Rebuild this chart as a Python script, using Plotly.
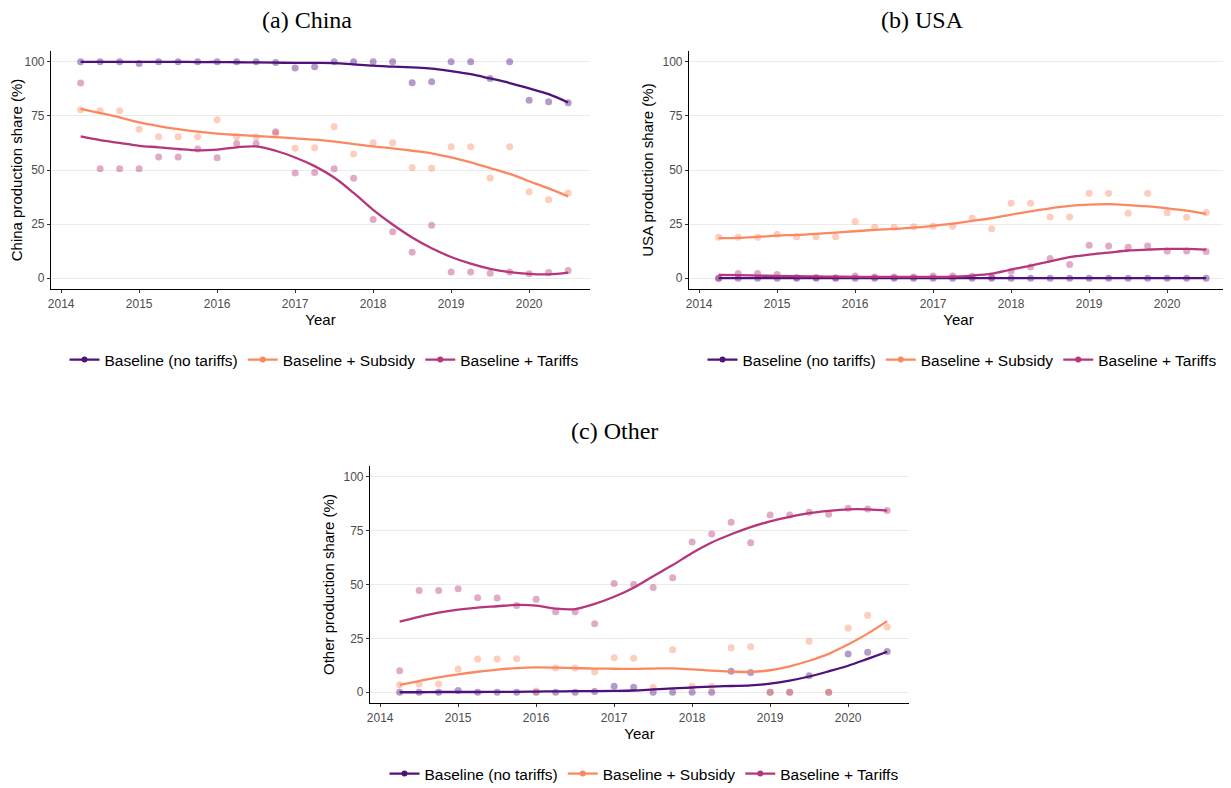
import plotly.graph_objects as go

# page body has an 8px margin: positions are shifted by it; the figure keeps full size
OFF = 8
W, H = 1231, 788

years = [2014.25, 2014.5, 2014.75, 2015.0, 2015.25, 2015.5, 2015.75, 2016.0,
         2016.25, 2016.5, 2016.75, 2017.0, 2017.25, 2017.5, 2017.75, 2018.0,
         2018.25, 2018.5, 2018.75, 2019.0, 2019.25, 2019.5, 2019.75, 2020.0,
         2020.25, 2020.5]

scenarios = ["Baseline (no tariffs)", "Baseline + Subsidy", "Baseline + Tariffs"]
colors = ["#4F127B", "#FB8861", "#B5367A"]

# ---- China: observed points ----
china_base = [100, 100, 100, 99.2, 100, 100, 100, 100, 100, 100, 99.7, 97.1, 97.7,
              100, 100, 100, 100, 90.3, 90.8, 100, 100, 92.3, 100, 82.2, 81.5, 81.1]
china_subs = [77.8, 77.4, 77.4, 68.8, 65.4, 65.4, 65.4, 73.2, 65.4, 65.4, 66.9, 60.0,
              60.3, 70.0, 57.4, 62.6, 62.6, 51.2, 50.8, 60.8, 60.8, 46.3, 60.8, 40.0,
              36.2, 39.4]
china_tar = [90.2, 50.6, 50.6, 50.6, 56.0, 56.0, 59.7, 55.7, 62.3, 62.3, 67.7, 48.6,
             48.9, 50.6, 46.2, 27.1, 21.5, 12.0, 24.5, 2.8, 2.8, 2.3, 2.8, 2.0, 2.6, 3.5]
# ---- China: smoothed curves ----
china_base_fit = [100, 100, 100, 100, 100, 100, 99.9, 99.9, 99.8, 99.7, 99.6, 99.5,
                  99.5, 99.4, 98.8, 98.2, 97.8, 97.4, 96.9, 95.7, 94.3, 92.3, 90.2,
                  87.7, 85.1, 81.2]
china_subs_fit = [78.2, 76.3, 74.3, 72.0, 70.3, 68.9, 67.7, 66.8, 66.2, 65.7, 65.2,
                  64.6, 64.0, 63.1, 62.0, 60.9, 60.0, 58.9, 57.7, 55.8, 53.5, 50.9,
                  48.2, 44.8, 41.5, 37.8]
china_tar_fit = [65.5, 63.8, 62.5, 61.2, 60.5, 59.7, 59.1, 59.4, 60.5, 60.9, 58.9,
                 55.8, 51.8, 46.5, 39.4, 31.6, 24.8, 18.8, 13.8, 9.8, 6.7, 4.3, 2.8,
                 2.0, 1.8, 2.6]

# ---- USA ----
usa_base = [0] * 26
usa_subs = [18.9, 18.9, 18.9, 20.3, 19.2, 19.2, 19.2, 26.2, 23.5, 23.5, 23.8, 24.0,
            24.0, 27.7, 22.8, 34.6, 34.6, 28.3, 28.3, 39.2, 39.2, 30.0, 39.2, 30.2,
            28.2, 30.3]
usa_tar = [0.0, 2.2, 2.2, 1.7, 0.3, 0.3, 0.2, 1.0, 0.5, 0.5, 0.5, 1.0, 1.0, 0.9, 0.5,
           3.2, 5.2, 9.1, 6.3, 15.2, 14.9, 14.3, 14.9, 12.6, 12.6, 12.3]
usa_base_fit = [0] * 26
usa_subs_fit = [18.5, 18.6, 19.1, 19.7, 20.0, 20.5, 21.1, 21.7, 22.3, 22.8, 23.4,
                24.2, 25.2, 26.5, 27.7, 29.4, 30.9, 32.3, 33.4, 34.0, 34.2, 33.8,
                33.2, 32.3, 31.2, 29.7]
usa_tar_fit = [1.5, 1.4, 1.2, 1.0, 0.9, 0.8, 0.7, 0.6, 0.6, 0.6, 0.6, 0.6, 0.7, 1.2,
               2.1, 4.0, 5.8, 7.8, 9.7, 10.9, 11.8, 12.8, 13.2, 13.5, 13.5, 13.2]

# ---- Other ----
oth_base = [0, 0, 0, 0.8, 0, 0, 0, 0, 0, 0, 0.3, 2.8, 2.3, 0, 0, 0, 0, 9.7, 9.2, 0, 0,
            7.7, 0, 17.8, 18.5, 18.9]
oth_subs = [3.5, 3.8, 3.8, 10.8, 15.4, 15.4, 15.5, 0.6, 11.2, 11.2, 9.5, 16.0, 15.8,
            2.2, 19.7, 2.8, 2.8, 20.6, 21.1, 0.0, 0.0, 23.7, 0.0, 29.7, 35.7, 30.3]
oth_tar = [10.0, 47.2, 47.2, 48.0, 43.8, 43.7, 40.3, 43.1, 37.4, 37.4, 31.8, 50.5,
           50.0, 48.6, 53.1, 69.7, 73.4, 78.9, 69.4, 82.2, 82.3, 83.5, 82.6, 85.4,
           85.1, 84.3]
oth_base_fit = [0.0, 0.0, 0.1, 0.1, 0.1, 0.2, 0.2, 0.3, 0.4, 0.5, 0.5, 0.6, 0.8, 1.3,
                1.8, 2.2, 2.6, 2.9, 3.2, 4.0, 5.4, 7.3, 9.7, 12.3, 15.5, 18.8]
oth_subs_fit = [3.4, 5.2, 6.9, 8.3, 9.5, 10.5, 11.2, 11.5, 11.4, 11.2, 11.0, 10.9,
                10.8, 11.0, 11.1, 10.6, 10.0, 9.6, 9.4, 10.2, 12.0, 14.6, 17.8, 22.2,
                27.2, 33.0]
oth_tar_fit = [32.8, 35.0, 36.9, 38.3, 39.3, 39.9, 40.5, 40.2, 38.8, 38.6, 41.0, 44.3,
               48.5, 53.8, 59.0, 64.6, 69.5, 73.3, 76.6, 79.3, 81.4, 83.1, 84.2, 84.9,
               84.9, 84.3]

panels = [
    dict(pts=[china_base, china_subs, china_tar], fit=[china_base_fit, china_subs_fit, china_tar_fit],
         xa="x", ya="y", legend="legend", ytitle="China production share (%)"),
    dict(pts=[usa_base, usa_subs, usa_tar], fit=[usa_base_fit, usa_subs_fit, usa_tar_fit],
         xa="x2", ya="y2", legend="legend2", ytitle="USA production share (%)"),
    dict(pts=[oth_base, oth_subs, oth_tar], fit=[oth_base_fit, oth_subs_fit, oth_tar_fit],
         xa="x3", ya="y3", legend="legend3", ytitle="Other production share (%)"),
]


def rgba(hexc, a):
    h = hexc.lstrip("#")
    r, g, b = int(h[0:2], 16), int(h[2:4], 16), int(h[4:6], 16)
    return f"rgba({r},{g},{b},{a})"


fig = go.Figure()
for p in panels:
    for i, s in enumerate(scenarios):
        fig.add_trace(go.Scatter(x=years, y=p["pts"][i], mode="markers", xaxis=p["xa"], yaxis=p["ya"],
                                 marker=dict(size=7, color=rgba(colors[i], 0.42), line=dict(width=0)),
                                 showlegend=False, hoverinfo="skip"))
    for i, s in enumerate(scenarios):
        fig.add_trace(go.Scatter(x=years, y=p["fit"][i], mode="lines", xaxis=p["xa"], yaxis=p["ya"],
                                 line=dict(color=colors[i], width=2.3, shape="spline", smoothing=1.0),
                                 showlegend=False, name=s))
    for i, s in enumerate(scenarios):
        fig.add_trace(go.Scatter(x=[None], y=[None], mode="lines+markers", xaxis=p["xa"], yaxis=p["ya"],
                                 line=dict(color=colors[i], width=2.3),
                                 marker=dict(size=6, color=colors[i]),
                                 name=s, legend=p["legend"], showlegend=True))


def px_x(v):
    return (v - OFF) / W


def px_y(v):
    return 1 - (v - OFF) / H


tickfont = dict(family="Liberation Sans, Arial, sans-serif", size=12, color="#4D4D4D")
titlefont = dict(family="Liberation Sans, Arial, sans-serif", size=15, color="#000000")

boxes = {
    "": (51, 590, 51, 289),
    "2": (689, 1228, 51, 289),
    "3": (370, 909, 466, 703),
}
for k, (x0, x1, y0, y1) in boxes.items():
    pnl = panels[{"": 0, "2": 1, "3": 2}[k]]
    fig.layout["xaxis" + k] = dict(
        domain=[px_x(x0), px_x(x1)], range=[2013.87, 2020.78], anchor="y" + k,
        tickvals=[2014, 2015, 2016, 2017, 2018, 2019, 2020], ticks="outside", ticklen=3,
        tickcolor="#333333", tickwidth=1, showline=True, linecolor="black", linewidth=1.2,
        showgrid=False, zeroline=False, tickfont=tickfont, automargin=False,
        title=dict(text="Year", font=titlefont, standoff=2),
    )
    fig.layout["yaxis" + k] = dict(
        domain=[px_y(y1), px_y(y0)], range=[-5, 105], anchor="x" + k,
        tickvals=[0, 25, 50, 75, 100], ticks="outside", ticklen=3, tickcolor="#333333",
        tickwidth=1, showline=True, linecolor="black", linewidth=1.2, automargin=False,
        showgrid=True, gridcolor="#EBEBEB", gridwidth=1, zeroline=False, tickfont=tickfont,
        title=dict(text=pnl["ytitle"], font=titlefont, standoff=5),
    )

legfont = dict(family="Liberation Sans, Arial, sans-serif", size=15.5, color="#000000")
leg_common = dict(orientation="h", xanchor="center", yanchor="middle", font=legfont,
                  bgcolor="rgba(0,0,0,0)", itemwidth=30, traceorder="normal")
fig.update_layout(
    legend=dict(x=px_x(324), y=px_y(360), **leg_common),
    legend2=dict(x=px_x(962), y=px_y(360), **leg_common),
    legend3=dict(x=px_x(644), y=px_y(774), **leg_common),
)

serif = dict(family="Liberation Serif, Times New Roman, serif", size=24, color="#000000")
for txt, cx, cy in [("(a) China", 307, 20), ("(b) USA", 922, 20), ("(c) Other", 614, 431)]:
    fig.add_annotation(text=txt, x=px_x(cx), y=px_y(cy), xref="paper", yref="paper",
                       showarrow=False, xanchor="center", yanchor="middle", font=serif)

fig.update_layout(width=W, height=H, margin=dict(l=0, r=0, t=0, b=0, autoexpand=False),
                  plot_bgcolor="white", paper_bgcolor="white", showlegend=True)

fig.write_html("out.html")
